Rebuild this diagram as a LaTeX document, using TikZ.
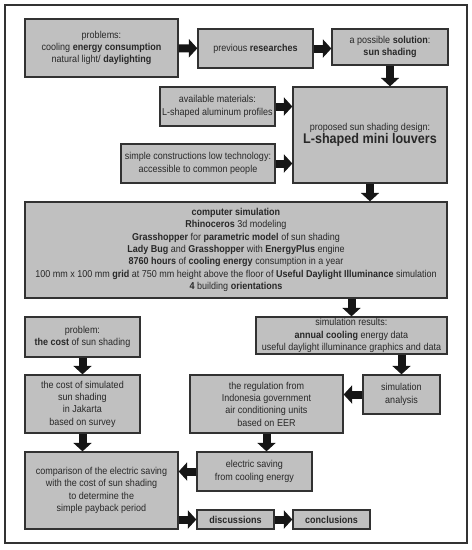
\documentclass[tikz,border=0pt]{standalone}
\usepackage{fontspec}
\setmainfont{Liberation Sans}[FakeStretch=0.9]
\usetikzlibrary{arrows.meta}
\definecolor{BoxGray}{RGB}{192,192,192}
\definecolor{LineGray}{RGB}{50,50,50}
\definecolor{TextGray}{RGB}{40,40,40}
\definecolor{ArrBlack}{RGB}{22,22,22}

\begin{document}
\begin{tikzpicture}[x=1pt, y=-1pt,
      stage/.style={rectangle, draw=LineGray, line width=1.3pt, fill=BoxGray,
                    inner sep=0pt, align=center, text=TextGray,
                    font=\fontsize{10}{12.3}\selectfont},
      blk/.style={-{Triangle[length=8.5pt, width=18pt]}, line width=8pt, ArrBlack}
    ]
    \useasboundingbox (0,0) rectangle (472,550);
    \draw[line width=2.6pt, LineGray] (5,5) rectangle (467,543);

    % Top row
    \node[stage, minimum width=153pt, minimum height=58pt] (prob) at (101.5,48)
      {problems:\\cooling \textbf{energy consumption}\\natural light/ \textbf{daylighting}};
    \node[stage, minimum width=115pt, minimum height=39pt] (res) at (255.5,48.5)
      {previous \textbf{researches}};
    \node[stage, minimum width=116pt, minimum height=36pt] (sol) at (390,47)
      {a possible \textbf{solution}:\\\textbf{sun shading}};

    % Design inputs
    \node[stage, minimum width=115pt, minimum height=39pt] (mat) at (217.5,106.5)
      {available materials:\\L-shaped aluminum profiles};
    \node[stage, minimum width=154pt, minimum height=39pt] (cons) at (198,163.5)
      {simple constructions low technology:\\accessible to common people};
    \node[stage, minimum width=154pt, minimum height=96pt] (prop) at (370,135)
      {proposed sun shading design:\\[1pt]{\fontsize{14}{16}\selectfont\bfseries L-shaped mini louvers}};

    % Simulation
    \node[stage, minimum width=422pt, minimum height=96pt] (sim) at (236,250)
      {\textbf{computer simulation}\\
       \textbf{Rhinoceros} 3d modeling\\
       \textbf{Grasshopper} for \textbf{parametric model} of sun shading\\
       \textbf{Lady Bug} and \textbf{Grasshopper} with \textbf{EnergyPlus} engine\\
       \textbf{8760 hours} of \textbf{cooling energy} consumption in a year\\
       100 mm x 100 mm \textbf{grid} at 750 mm height above the floor of \textbf{Useful Daylight Illuminance} simulation\\
       \textbf{4} building \textbf{orientations}};

    % Left branch: cost
    \node[stage, minimum width=115pt, minimum height=40pt] (cost) at (82.5,337)
      {problem:\\\textbf{the cost} of sun shading};
    \node[stage, minimum width=115pt, minimum height=58pt] (costsim) at (82.5,404)
      {the cost of simulated\\sun shading\\in Jakarta\\based on survey};

    % Right branch: results
    \node[stage, minimum width=191pt, minimum height=37pt] (simres) at (351.5,335.5)
      {simulation results:\\\textbf{annual cooling} energy data\\useful daylight illuminance graphics and data};
    \node[stage, minimum width=77pt, minimum height=39pt] (ana) at (401.5,394.5)
      {simulation\\analysis};
    \node[stage, minimum width=153pt, minimum height=58pt] (reg) at (266.5,404)
      {the regulation from\\Indonesia government\\air conditioning units\\based on EER};
    \node[stage, minimum width=115pt, minimum height=39pt] (elec) at (254.5,471.5)
      {electric saving\\from cooling energy};

    % Bottom row
    \node[stage, minimum width=153pt, minimum height=77pt] (comp) at (101.5,490.5)
      {comparison of the electric saving\\with the cost of sun shading\\to determine the\\simple payback period};
    \node[stage, minimum width=77pt, minimum height=19pt] (disc) at (235.5,519.5)
      {\textbf{discussions}};
    \node[stage, minimum width=77pt, minimum height=19pt] (concl) at (331.5,519.5)
      {\textbf{conclusions}};

    % Arrows
    \draw[blk] (prob) -- (res);
    \draw[blk] (res) -- (sol.west |- res);
    \draw[blk] (sol) -- (sol |- prop.north);
    \draw[blk] (mat) -- (prop.west |- mat);
    \draw[blk] (cons) -- (prop.west |- cons);
    \draw[blk] (prop) -- (prop |- sim.north);
    \draw[blk] (simres |- sim.south) -- (simres);
    \draw[blk] (cost) -- (costsim);
    \draw[blk] (ana |- simres.south) -- (ana);
    \draw[blk] (ana) -- (reg.east |- ana);
    \draw[blk] (costsim) -- (costsim |- comp.north);
    \draw[blk] (reg) -- (reg |- elec.north);
    \draw[blk] (elec) -- (comp.east |- elec);
    \draw[blk] (comp.east |- disc) -- (disc);
    \draw[blk] (disc) -- (concl);
\end{tikzpicture}
\end{document}
